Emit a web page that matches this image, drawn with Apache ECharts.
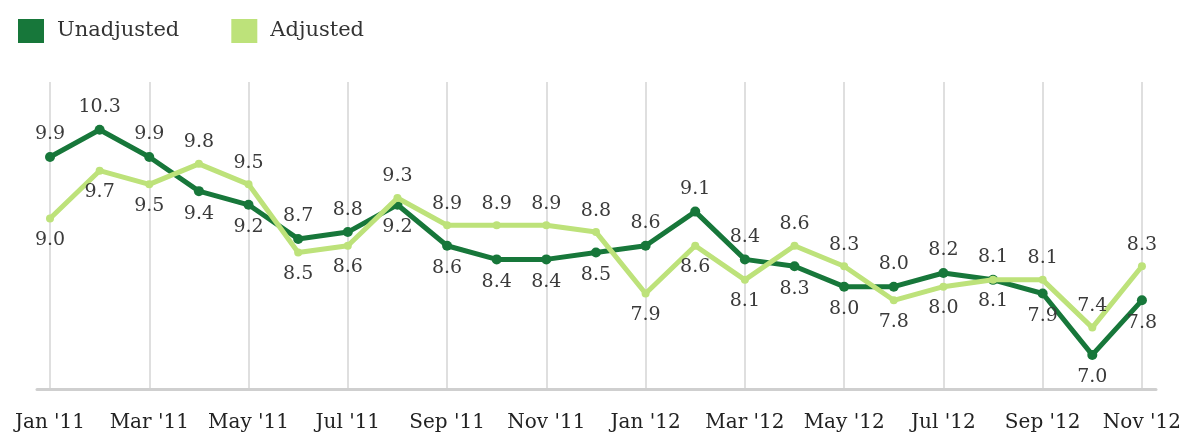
<!DOCTYPE html>
<html>
<head>
<meta charset="utf-8">
<script src="https://cdn.jsdelivr.net/npm/echarts@6/dist/echarts.min.js"></script>
<style>
html,body{margin:0;padding:0;background:#fff;}
#chart{width:1184px;height:442px;}
</style>
</head>
<body>
<div id="chart"></div>
<script>
var categories = ["Jan '11","Feb '11","Mar '11","Apr '11","May '11","Jun '11","Jul '11","Aug '11","Sep '11","Oct '11","Nov '11","Dec '11",
  "Jan '12","Feb '12","Mar '12","Apr '12","May '12","Jun '12","Jul '12","Aug '12","Sep '12","Oct '12","Nov '12"];
var unadjusted = [9.9,10.3,9.9,9.4,9.2,8.7,8.8,9.2,8.6,8.4,8.4,8.5,8.6,9.1,8.4,8.3,8.0,8.0,8.2,8.1,7.9,7.0,7.8];
var adjusted   = [9.0,9.7,9.5,9.8,9.5,8.5,8.6,9.3,8.9,8.9,8.9,8.8,7.9,8.6,8.1,8.6,8.3,7.8,8.0,8.1,8.1,7.4,8.3];

var DARK = '#17773a', LIGHT = '#bde27a';
var FONT = 'DejaVu Serif';

function withLabels(vals, other, preferTop) {
  return vals.map(function (v, i) {
    var o = other[i];
    var top = v > o || (v === o && preferTop);
    return { value: v, label: { position: top ? 'top' : 'bottom' } };
  });
}

var chart = echarts.init(document.getElementById('chart'));
chart.setOption({
  animation: false,
  backgroundColor: '#fff',
  legend: {
    left: 13, top: 14,
    icon: 'rect', itemWidth: 26, itemHeight: 24, itemGap: 52,
    textStyle: { fontFamily: FONT, fontSize: 21, color: '#333', padding: [0, 0, 0, 8] },
    data: ['Unadjusted', 'Adjusted']
  },
  grid: [
    { left: 50, right: 42, top: 82, bottom: 53 },
    { left: 37, right: 28, top: 82, bottom: 53 }
  ],
  xAxis: [
    {
      type: 'category', gridIndex: 0, data: categories, boundaryGap: false,
      axisLine: { show: false },
      axisTick: { show: false },
      axisLabel: { interval: 1, fontFamily: FONT, fontSize: 20, color: '#222', margin: 24 },
      splitLine: { show: true, interval: 1, lineStyle: { color: '#d4d4d4', width: 1.5 } }
    },
    {
      type: 'value', gridIndex: 1, min: 0, max: 1,
      axisLine: { show: true, onZero: false, lineStyle: { color: '#cfcfcf', width: 3 } },
      axisTick: { show: false }, axisLabel: { show: false }, splitLine: { show: false }
    }
  ],
  yAxis: [
    { type: 'value', gridIndex: 0, min: 6.5, max: 11, show: false, splitLine: { show: false } },
    { type: 'value', gridIndex: 1, min: 0, max: 1, show: false, splitLine: { show: false } }
  ],
  series: [
    {
      name: 'Unadjusted', type: 'line', xAxisIndex: 0, yAxisIndex: 0,
      data: withLabels(unadjusted, adjusted, true),
      color: DARK,
      lineStyle: { width: 5, color: DARK },
      symbol: 'circle', symbolSize: 10, showAllSymbol: true,
      itemStyle: { color: DARK },
      label: { show: true, fontFamily: FONT, fontSize: 19, color: '#3a3a3a', distance: 8,
        formatter: function (p) { return p.value.toFixed(1); } },
      z: 2
    },
    {
      name: 'Adjusted', type: 'line', xAxisIndex: 0, yAxisIndex: 0,
      data: withLabels(adjusted, unadjusted, false),
      color: LIGHT,
      lineStyle: { width: 5, color: LIGHT },
      symbol: 'circle', symbolSize: 8, showAllSymbol: true,
      itemStyle: { color: LIGHT },
      label: { show: true, fontFamily: FONT, fontSize: 19, color: '#3a3a3a', distance: 8,
        formatter: function (p) { return p.value.toFixed(1); } },
      z: 3
    }
  ]
});
</script>
</body>
</html>
